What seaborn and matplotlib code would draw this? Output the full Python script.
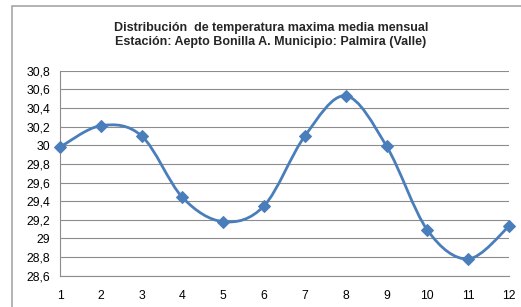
import numpy as np
import matplotlib
matplotlib.use("Agg")
import matplotlib.pyplot as plt
from matplotlib.path import Path
from matplotlib.patches import PathPatch, Rectangle
from matplotlib.ticker import FuncFormatter, MultipleLocator
import seaborn as sns

# datos
meses = [1, 2, 3, 4, 5, 6, 7, 8, 9, 10, 11, 12]
temp_max = [29.98, 30.21, 30.10, 29.44, 29.18, 29.35, 30.10, 30.53, 29.99, 29.09, 28.78, 29.13]

titulo = "Distribución  de temperatura maxima media mensual\nEstación: Aepto Bonilla A. Municipio: Palmira (Valle)"
color_linea = "#4A7EBB"

sns.set_theme(style="white")
plt.rcParams['font.family'] = ['Liberation Sans', 'DejaVu Sans']

fig = plt.figure(figsize=(5.21, 3.07), dpi=100)
W, H = 521, 307
ax = fig.add_axes([60 / W, 1 - 275.7 / H, (509 - 60) / W, (275.7 - 70.7) / H])

# borde del area del grafico (estilo Excel)
fig.patches.append(Rectangle((12 / W, -0.1), 1.2, (1 - 6 / H) + 0.1, transform=fig.transFigure,
                             fill=False, edgecolor="#A6A6A6", linewidth=1.2))

# linea suavizada tipo Excel (bezier a traves de los puntos)
x = np.array(meses, dtype=float)
y = np.array(temp_max)
verts = [(x[0], y[0])]
codes = [Path.MOVETO]
n = len(x)
for i in range(n - 1):
    p0 = (x[max(i - 1, 0)], y[max(i - 1, 0)])
    p1 = (x[i], y[i])
    p2 = (x[i + 1], y[i + 1])
    p3 = (x[min(i + 2, n - 1)], y[min(i + 2, n - 1)])
    c1 = (p1[0] + (p2[0] - p0[0]) / 6, p1[1] + (p2[1] - p0[1]) / 6)
    c2 = (p2[0] - (p3[0] - p1[0]) / 6, p2[1] - (p3[1] - p1[1]) / 6)
    verts += [c1, c2, p2]
    codes += [Path.CURVE4] * 3
ax.add_patch(PathPatch(Path(verts, codes), fill=False, edgecolor=color_linea, linewidth=2.0,
                       zorder=3, clip_on=False))

sns.lineplot(x=meses, y=temp_max, ax=ax, linestyle="none", marker="D", markersize=6.5,
             color=color_linea, markeredgecolor=color_linea, zorder=4, clip_on=False)

ax.set_xlim(1, 12)
ax.set_ylim(28.6, 30.8)
ax.xaxis.set_major_locator(MultipleLocator(1))
ax.yaxis.set_major_locator(MultipleLocator(0.2))
fmt = FuncFormatter(lambda v, p: (f"{v:.1f}".rstrip("0").rstrip(".")).replace(".", ","))
ax.yaxis.set_major_formatter(fmt)
ax.yaxis.grid(True, color="#8C8C8C", linewidth=0.8)
ax.set_axisbelow(True)

for s in ["top", "right"]:
    ax.spines[s].set_visible(False)
for s in ["left", "bottom"]:
    ax.spines[s].set_color("#8C8C8C")
    ax.spines[s].set_linewidth(0.8)

ax.tick_params(axis="both", which="major", direction="out", length=4, width=0.8,
               color="#8C8C8C", labelsize=8.8, labelcolor="#000000")
ax.tick_params(axis="x", pad=6)
ax.tick_params(axis="y", pad=3)
ax.set_xlabel("")
ax.set_ylabel("")

fig.text(271 / W, 1 - 35 / H, titulo, ha="center", va="center", fontsize=9.0,
         fontweight="bold", linespacing=1.2)

fig.savefig("out.png", dpi=100)
